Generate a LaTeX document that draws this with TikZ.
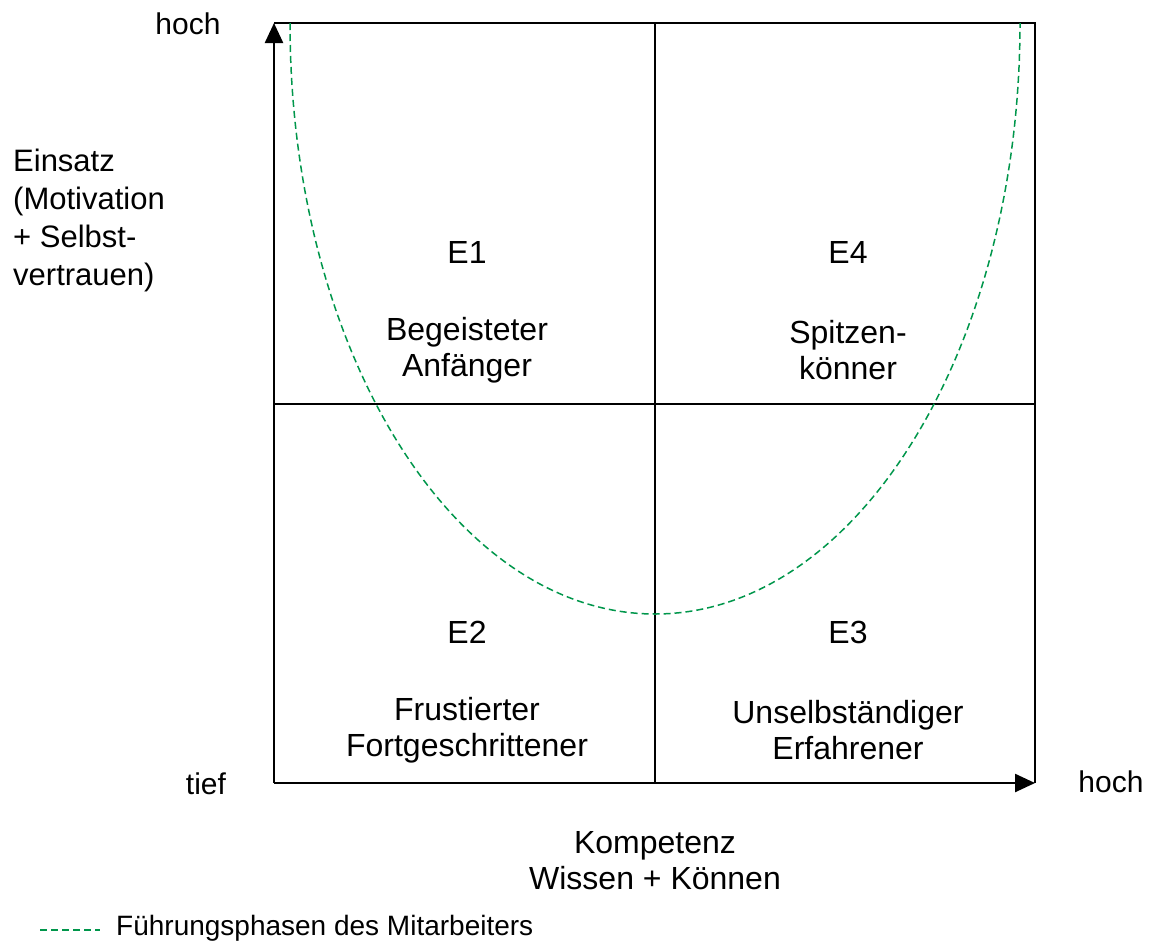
\documentclass[tikz,border=0pt]{standalone}
\usepackage{fontspec}
\setmainfont{Liberation Sans}
\usetikzlibrary{arrows.meta}
\definecolor{phasegreen}{RGB}{0,150,75}
\begin{document}
\begin{tikzpicture}[x=1pt,y=-1pt,
  axis/.style={line width=2.4pt,-{Triangle[length=20pt,width=18pt]}},
  grid/.style={line width=2pt},
  phase/.style={phasegreen,line width=1.5pt,dash pattern=on 7pt off 4pt},
  lbl/.style={font=\fontsize{32}{36}\selectfont,inner sep=0pt,align=center},
  small/.style={font=\fontsize{30}{35}\selectfont,inner sep=0pt,align=center},
  lbll/.style={font=\fontsize{31}{38}\selectfont,inner sep=0pt,align=left}]
\useasboundingbox (0,0) rectangle (1150,951);
% corners
\coordinate (O) at (274,783);
\coordinate (TL) at (274,23);
\coordinate (TR) at (1035,23);
\coordinate (BR) at (1035,783);
\coordinate (TM) at (655,23);
\coordinate (BM) at (655,783);
\coordinate (LM) at (274,404);
\coordinate (RM) at (1035,404);
\coordinate (PS) at (290,23);
\coordinate (L1) at (40,930);
\coordinate (L2) at (100,930);
% frame
\draw[grid] (TL) -- (TR) -- (BR);
\draw[grid] (TM) -- (BM);
\draw[grid] (LM) -- (RM);
\draw[axis] (O) -- (TL);
\draw[axis] (O) -- (BR);
% curve
\draw[phase] (PS) arc[start angle=180,end angle=0,x radius=365,y radius=591];
% labels
\node[small] (yhoch) at (188,24) {hoch};
\node[lbll,anchor=north west] (yax) at (13,149) {Einsatz\\(Motivation\\+ Selbst-\\vertrauen)};
\node[lbl] (e1) at (467,252) {E1};
\node[lbl] (e1t) at (467,350) {Begeisteter\\Anfänger};
\node[lbl] (e4) at (848,252) {E4};
\node[lbl] (e4t) at (848,350) {Spitzen-\\könner};
\node[lbl] (e2) at (467,632) {E2};
\node[lbl] (e2t) at (467,730) {Frustierter\\Fortgeschrittener};
\node[lbl] (e3) at (848,632) {E3};
\node[lbl] (e3t) at (848,730) {Unselbständiger\\Erfahrener};
\node[small] (tief) at (206,784) {tief};
\node[small] (xhoch) at (1111,782) {hoch};
\node[lbl] (xax) at (655,861) {Kompetenz\\Wissen + Können};
\draw[phase] (L1) -- (L2);
\node[font=\fontsize{28}{33}\selectfont,inner sep=0pt,anchor=west] (leg) at (116,928) {Führungsphasen des Mitarbeiters};
\end{tikzpicture}
\end{document}
